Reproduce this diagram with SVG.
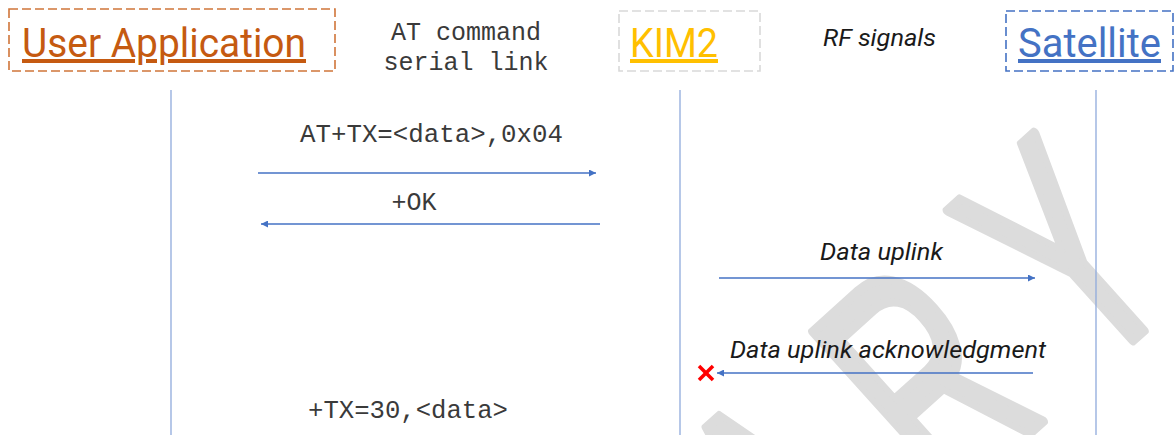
<svg xmlns="http://www.w3.org/2000/svg" width="1176" height="435" viewBox="0 0 1176 435">
<style>
.hdr{font-family:Roboto,"Liberation Sans",sans-serif;font-size:40px;text-decoration:underline}
.mono{font-family:"Liberation Mono","Courier New",monospace;font-size:25px;fill:#3a3a3a}
.ital{font-family:Roboto,"Liberation Sans",sans-serif;font-style:italic;font-size:23px;fill:#1a1a1a}
.life{stroke:#8faadc;stroke-width:1.3;fill:none}
.msg{stroke:#4472c4;stroke-width:1.6;fill:none;marker-end:url(#ah)}
.box{fill:none;stroke-width:1.6;stroke-dasharray:9 4}
</style>
<defs>
<marker id="ah" viewBox="0 0 10 10" refX="10" refY="5" markerWidth="7" markerHeight="7" markerUnits="userSpaceOnUse" orient="auto">
<path d="M0,0 L10,5 L0,10 z" fill="#4472c4"/>
</marker>
</defs>
<rect width="1176" height="435" fill="#fff"/>
<g id="watermark" transform="translate(1142,332) rotate(-42) scale(0.6,1)">
<text x="-739 -436 -115" y="0" font-family="Liberation Sans,sans-serif" font-size="320" fill="#dcdcdc" stroke="#dcdcdc" stroke-width="10" stroke-linejoin="round">ARY</text>
</g>
<g id="user-application">
<rect class="box" x="9" y="9" width="326" height="62" stroke="#d0753a"/>
<text class="hdr" x="22" y="57" fill="#c55a11" textLength="284" lengthAdjust="spacingAndGlyphs">User Application</text>
<line class="life" x1="171" y1="90" x2="171" y2="435"/>
</g>
<g id="at-link-label">
<text class="mono" x="466" y="40" text-anchor="middle">AT command</text>
<text class="mono" x="466" y="70" text-anchor="middle">serial link</text>
</g>
<g id="kim2">
<rect class="box" x="619" y="11" width="141" height="60" stroke="#d9d9d9"/>
<text class="hdr" x="630" y="57" fill="#ffc000" textLength="88" lengthAdjust="spacingAndGlyphs">KIM2</text>
<line class="life" x1="680" y1="90" x2="680" y2="435"/>
</g>
<g id="rf-label">
<text class="ital" x="823" y="46" textLength="113" lengthAdjust="spacingAndGlyphs">RF signals</text>
</g>
<g id="satellite">
<rect class="box" x="1006" y="11" width="167" height="60" stroke="#4472c4"/>
<text class="hdr" x="1018" y="57" fill="#4472c4" textLength="143" lengthAdjust="spacingAndGlyphs">Satellite</text>
<line class="life" x1="1096" y1="90" x2="1096" y2="435"/>
</g>
<g id="connectors">
<line class="msg" x1="258" y1="173" x2="596" y2="173"/>
<line class="msg" x1="600" y1="224" x2="261" y2="224"/>
<line class="msg" x1="719" y1="278" x2="1035" y2="278"/>
<line class="msg" x1="1033" y1="373" x2="717" y2="373"/>
</g>
<g id="labels">
<text class="mono" x="300" y="142" textLength="263" lengthAdjust="spacingAndGlyphs">AT+TX=&lt;data&gt;,0x04</text>
<text class="mono" x="414" y="210" text-anchor="middle">+OK</text>
<text class="ital" x="820" y="260" textLength="123" lengthAdjust="spacingAndGlyphs">Data uplink</text>
<text class="ital" x="730" y="358" textLength="316" lengthAdjust="spacingAndGlyphs">Data uplink acknowledgment</text>
<text class="mono" x="308" y="418" textLength="200" lengthAdjust="spacingAndGlyphs">+TX=30,&lt;data&gt;</text>
</g>
<g id="lost-ack" stroke="#ff0000" stroke-width="3.5" stroke-linecap="butt">
<line x1="699" y1="366" x2="713" y2="380"/>
<line x1="713" y1="366" x2="699" y2="380"/>
</g>
</svg>
